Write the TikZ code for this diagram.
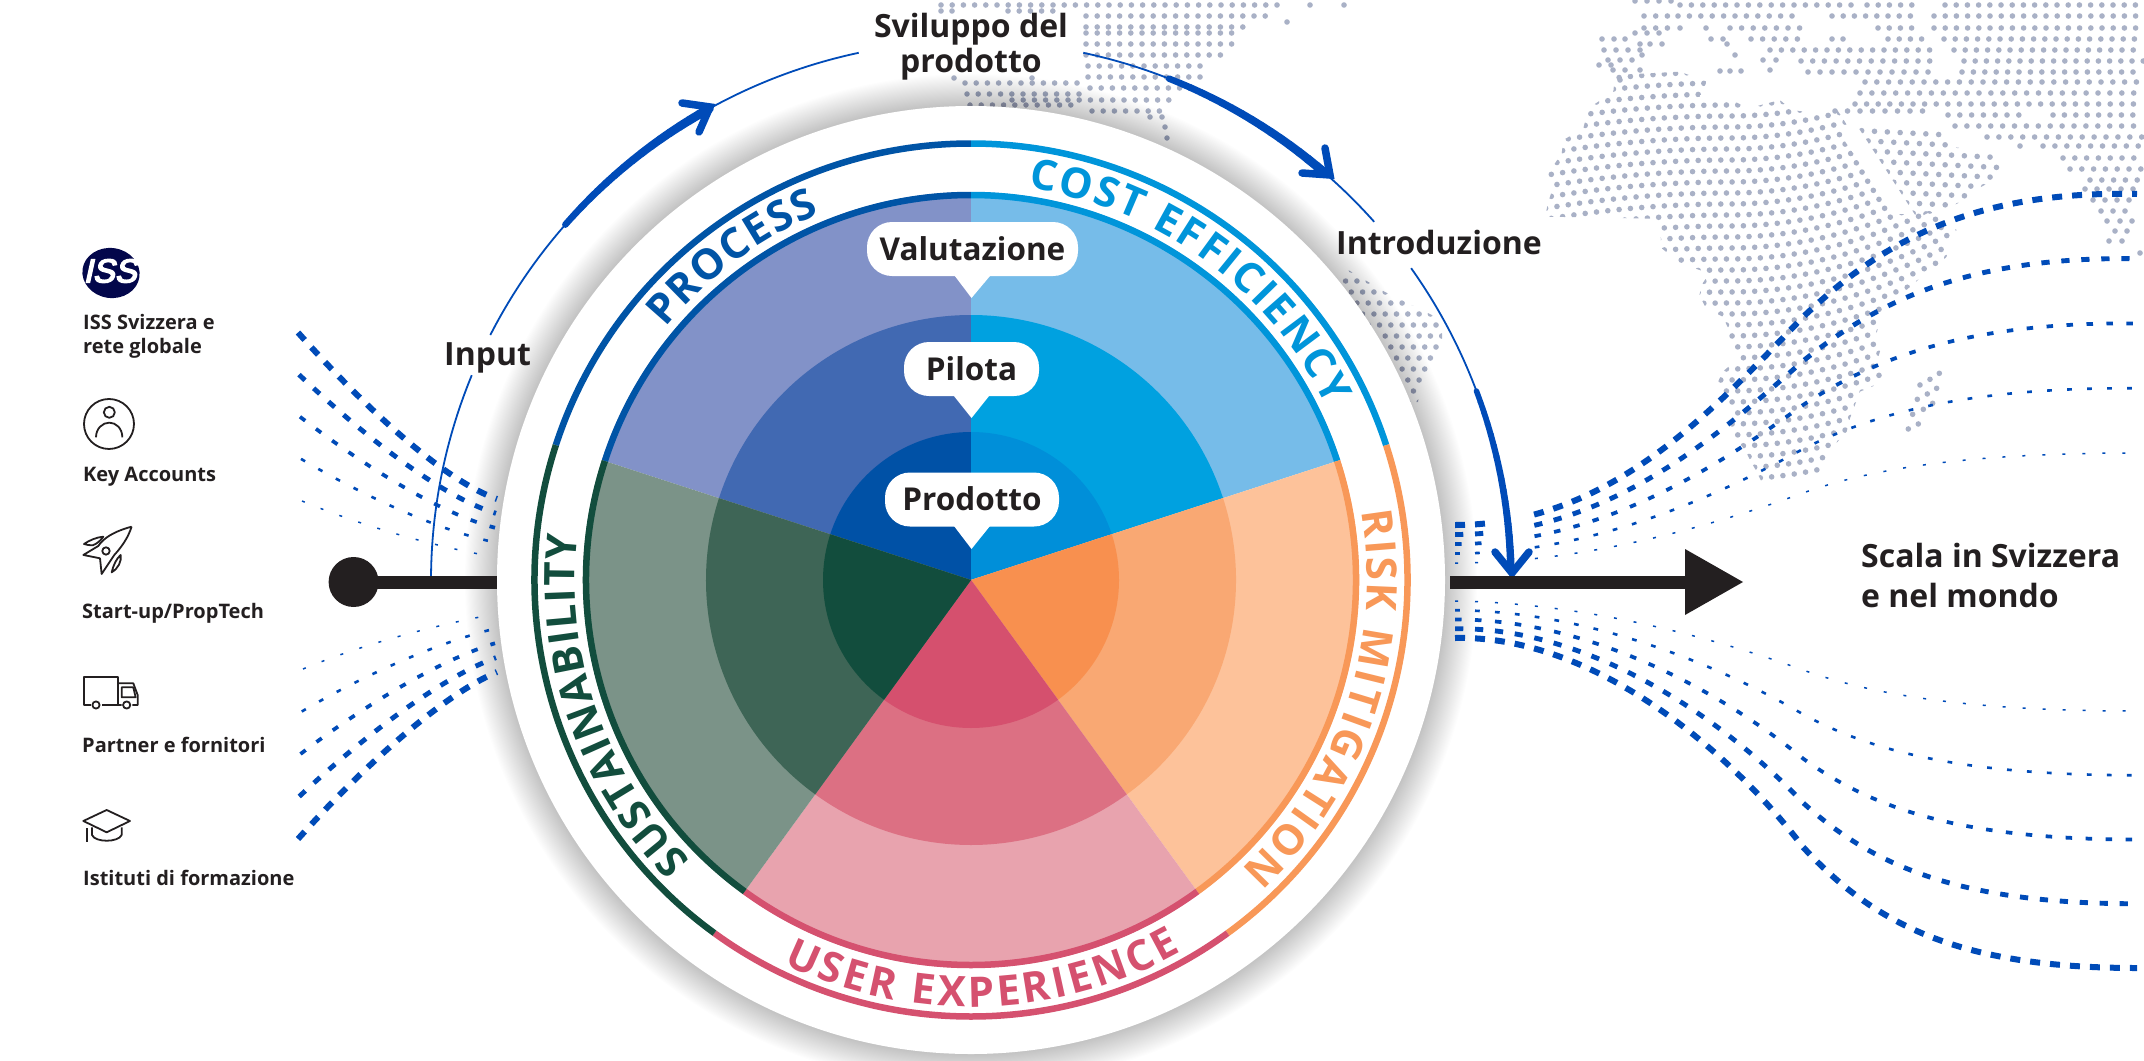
\documentclass[tikz,border=0pt]{standalone}
\usepackage{fontspec}
\IfFontExistsTF{Open Sans Bold}{\setmainfont{Open Sans}[BoldFont={Open Sans Bold}]}{\setmainfont{Noto Sans}[BoldFont={Noto Sans},BoldFeatures={FakeBold=2.2}]}
\newfontfamily\logofont{Liberation Sans}[FakeBold=4.5,FakeSlant=.22]
\usetikzlibrary{decorations.text}
\definecolor{ink}{HTML}{231F20}
\definecolor{mapc}{HTML}{A9B1C6}
\definecolor{blu}{HTML}{004BB8}
\definecolor{navy}{HTML}{03074B}
\definecolor{pA}{HTML}{8292C8}\definecolor{pB}{HTML}{4169B2}\definecolor{pC}{HTML}{0051A6}\definecolor{pR}{HTML}{0054A6}
\definecolor{cA}{HTML}{76BCE9}\definecolor{cB}{HTML}{00A1E0}\definecolor{cC}{HTML}{008FD9}\definecolor{cR}{HTML}{0095DA}
\definecolor{rA}{HTML}{FDC29A}\definecolor{rB}{HTML}{F9A873}\definecolor{rC}{HTML}{F8904F}\definecolor{rR}{HTML}{F89858}
\definecolor{uA}{HTML}{E8A3AE}\definecolor{uB}{HTML}{DC7083}\definecolor{uC}{HTML}{D5506E}\definecolor{uR}{HTML}{D5516F}
\definecolor{sA}{HTML}{7B9388}\definecolor{sB}{HTML}{3E6556}\definecolor{sC}{HTML}{124D3D}\definecolor{sR}{HTML}{124D3D}
\tikzset{
 mapdot/.style={fill=mapc},
 small/.style={anchor=base west,inner sep=0pt,text=ink,font=\bfseries\fontsize{20}{25}\selectfont},
 big/.style={anchor=base west,inner sep=0pt,text=ink,font=\bfseries\fontsize{32}{35}\selectfont},
 bubble/.style={fill=white,rounded corners=25pt,inner sep=0pt,text=ink,text height=22pt,text depth=0pt,minimum height=54pt,font=\bfseries\fontsize{31.5}{35}\selectfont},
 thin arc/.style={draw=blu,line width=1.8pt},
 barb/.style={draw=blu,line width=7.5pt,line cap=round},
 icon/.style={draw=ink,line width=1.8pt,line join=round}
}
\newcommand\mapRow[4]{\pgfmathsetmacro\nxt{#2+#4}\fill[mapdot] \foreach \xx in {#2,\nxt,...,#3} {(\xx,#1) circle[radius=2.8pt]};}
\newcommand\mapDots[2]{\fill[mapdot] \foreach \xx in {#2} {(\xx,#1) circle[radius=2.8pt]};}
\newcommand\wedgeSec[6]{%
 \fill[#3] (0,0) -- (#1:388) arc[start angle=#1,end angle=#2,radius=388] -- cycle;
 \fill[#4] (0,0) -- (#1:265) arc[start angle=#1,end angle=#2,radius=265] -- cycle;
 \fill[#5] (0,0) -- (#1:148) arc[start angle=#1,end angle=#2,radius=148] -- cycle;
 \draw[#6,line width=6.5pt] (#1:385) arc[start angle=#1,end angle=#2,radius=385];
 \draw[#6,line width=6.5pt] (#1:436.5) arc[start angle=#1,end angle=#2,radius=436.5];}
\newcommand\taper[4]{\foreach \k in {0,...,15}{%
 \pgfmathsetmacro\aa{#1+(#2-#1)*\k/16}\pgfmathsetmacro\ab{#1+(#2-#1)*(\k+1)/16}\pgfmathsetmacro\ww{#3+(#4-#3)*\k/15}%
 \draw[blu,line width=\ww pt,line cap=round] (\aa:540) arc[start angle=\aa,end angle=\ab,radius=540];}}
\newcommand\LL[2]{{#1+(#2-#1)*\t}}
\newcommand\setDash{\pgfmathsetmacro\t{\i/4}\pgfmathsetmacro\dOn{3+7*\t}\pgfmathsetmacro\dOff{20-\dOn}\pgfmathsetmacro\dW{1.5+4.5*\t}}
\begin{document}
\begin{tikzpicture}[x=1pt,y=-1pt]
\path[use as bounding box] (0,0) rectangle (2144,1060);
%% ---------- map: North America
\mapRow{5}{941}{1287}{11.2}\mapDots{5}{1310,1344}
\mapDots{11}{941,952}\mapRow{11}{1008}{1063}{11.2}\mapRow{16}{1086}{1275}{11.2}
\mapRow{27}{1086}{1253}{11.2}\mapDots{22}{1287}
\mapRow{33}{1086}{1242}{11.2}\mapRow{44}{1086}{1233}{11.2}\mapRow{55}{1086}{1222}{11.2}
\mapRow{66}{1088}{1210}{11.2}\mapRow{77}{1088}{1202}{11.2}\mapDots{78}{954,1032}
\mapRow{83}{965}{1077}{11.2}\mapRow{88}{1090}{1180}{11.2}\mapRow{94}{967}{1081}{11.2}
\mapRow{100}{1012}{1170}{11.2}\mapRow{105}{970}{1081}{11.2}\mapRow{111}{1092}{1128}{11.2}\mapRow{111}{1137}{1162}{11.2}
\mapDots{117}{1150,1162}\mapDots{127}{1165}\mapDots{138}{1167}
%% ---------- map: South America
\begin{scope}
\clip (1345,268)--(1385,292)--(1442,320)--(1442,345)--(1422,385)--(1418,402)--(1395,402)--(1335,300)--cycle;
\foreach \r in {0,...,12}{\foreach \c in {0,...,10}{\pgfmathsetmacro\xx{1340+11.3*\c+5.6*mod(\r,2)}\pgfmathsetmacro\yy{270+11*\r}\fill[mapdot] (\xx,\yy) circle[radius=2.8pt];}}
\end{scope}
%% ---------- map: Europe / Asia band
\mapDots{1}{1635,1647,1659,1671}
\mapRow{5}{1680}{1851}{11.4}\mapRow{5}{1867}{1922}{11.2}\mapRow{5}{1945}{2144}{11.2}
\mapRow{16}{1644}{1668}{11.7}\mapRow{16}{1678}{1803}{11.4}\mapRow{16}{1832}{1912}{11.2}\mapRow{16}{1934}{2144}{11.2}
\mapRow{28}{1644}{1668}{11.7}\mapDots{28}{1680,1706}\mapRow{28}{1730}{1801}{11.6}\mapRow{28}{1878}{1912}{11.2}\mapRow{28}{1934}{2144}{11.2}
\mapDots{39}{1602,1614,1625,1711,1723}\mapDots{33}{1635,1647,1659}\mapRow{39}{1751}{1799}{11.6}\mapDots{39}{1832,1843}\mapRow{39}{1888}{1922}{11.2}\mapRow{39}{1944}{2144}{11.2}
\mapDots{44}{1640,1650,1662,1727}\mapRow{50}{1604}{1642}{12}\mapRow{50}{1770}{1932}{11.4}\mapRow{50}{1954}{2144}{11.2}
\mapDots{55}{1642,1735}\mapDots{60}{1608,1620,1632,1763,1776}\mapRow{61}{1801}{1932}{11.7}\mapRow{61}{1964}{2144}{11.2}
\mapDots{65}{1599,1611}\mapDots{70}{1613,1625,1640,1770}\mapDots{71}{1720,1730,1741}\mapRow{72}{1808}{1939}{12}\mapRow{72}{1962}{2144}{11.4}
\mapDots{80}{1620}
\mapRow{82}{1865}{2144}{11.8}\mapRow{93}{1860}{2144}{11.9}\mapRow{104}{1855}{2144}{11.6}
\mapRow{111}{1835}{1923}{12.5}\mapRow{115}{1948}{2030}{11.8}\mapRow{115}{2053}{2144}{11.4}
\mapRow{126}{1955}{2144}{11.9}\mapRow{137}{1987}{2144}{11.9}\mapDots{146}{2020}\mapRow{146}{2043}{2144}{11.9}
\mapRow{158}{2063}{2144}{11.8}\mapRow{169}{2070}{2144}{11.8}\mapRow{180}{2090}{2144}{11.8}
\mapRow{189}{2085}{2135}{12}\mapRow{200}{2093}{2130}{12}\mapRow{211}{2101}{2125}{12}\mapDots{221}{2107,2120,2132}\mapDots{231}{2115,2127}\mapDots{241}{2109,2122}\mapDots{253}{2140}
%% ---------- map: Arabia / horn lobe
\begin{scope}[shift={(1820,0)},x=.3333pt,y=-.3333pt]
\clip (112,378)--(305,358)--(370,400)--(392,440)--(522,458)--(547,500)--(527,537)--(472,567)--(452,592)--(392,620)--(332,635)--(292,655)--cycle;
\foreach \r in {0,...,11}{\foreach \c in {-8,...,12}{\pgfmathsetmacro\xx{125+38.5*\c+19.3*\r}\pgfmathsetmacro\yy{392+30*\r+.05*(\xx-125)}\fill[mapdot] (\xx,\yy) circle[radius=2.8pt];}}
\end{scope}
%% ---------- map: Africa
\begin{scope}[shift={(1530,70)},x=.3333pt,y=-.3333pt]
\begin{scope}
\clip (255,15)--(450,5)--(530,35)--(510,80)--(470,90)--(605,90)--(655,115)--(750,90)--(785,120)--(860,130)--(915,110)--(935,140)--(955,172)--(942,210)--(978,262)--(998,292)--(1018,320)--(1033,350)--(1053,378)--(1073,407)--(1088,433)--(1135,432)--(1200,423)--(1280,480)--(1255,510)--(1250,560)--(1220,590)--(1195,610)--(1170,625)--(1120,668)--(1060,705)--(1050,750)--(1040,790)--(1058,820)--(1045,860)--(1030,900)--(1088,915)--(1050,940)--(990,965)--(975,1005)--(960,1045)--(950,1085)--(905,1135)--(890,1172)--(875,1210)--(805,1228)--(700,1247)--(680,1205)--(660,1170)--(645,1140)--(620,1110)--(600,1075)--(615,1040)--(595,1010)--(580,975)--(560,945)--(578,905)--(620,870)--(605,840)--(590,805)--(595,775)--(578,740)--(528,715)--(508,675)--(518,640)--(538,610)--(455,582)--(395,535)--(388,455)--(370,446)--(45,440)--(55,395)--(65,365)--(55,310)--(75,280)--(95,250)--(100,210)--(160,175)--(170,135)--(190,105)--(250,65)--cycle;
\foreach \r in {0,...,41}{\foreach \c in {0,...,38}{%
 \pgfmathsetmacro\xx{30+33.9*\c+16.95*mod(\r,2)}%
 \pgfmathsetmacro\dz{(\xx-600)/100}%
 \pgfmathsetmacro\yy{-60+33*\r+(\dz>0?(0-4*\dz*\dz):(1.5*\dz*\dz))}%
 \fill[mapdot] (\xx,\yy) circle[radius=2.8pt];}}
\end{scope}
\foreach \p in {(1228,910),(1200,928),(1170,945),(1220,955),(1192,972),(1162,988),(1208,1000),(1180,1018),(1148,1033),(1165,1062),(1135,1077)}{\fill[mapdot] \p circle[radius=2.8pt];}
\end{scope}
%% ---------- wheel
\begin{scope}[shift={(971,580)},y=1pt]
\foreach \k in {0,...,29}{\pgfmathsetmacro\rr{506-1.07*\k}\fill[black,opacity=.006] (0,0) circle[radius=\rr];}
\fill[white] (0,0) circle[radius=474];
\wedgeSec{90}{162}{pA}{pB}{pC}{pR}
\wedgeSec{18}{90}{cA}{cB}{cC}{cR}
\wedgeSec{-54}{18}{rA}{rB}{rC}{rR}
\wedgeSec{-126}{-54}{uA}{uB}{uC}{uR}
\wedgeSec{162}{234}{sA}{sB}{sC}{sR}
\path[decorate,decoration={text along path,text align={fit to path},text color=pR,text={|\bfseries\fontsize{42}{42}\selectfont|PROCESS}}] (140.5:396) arc[start angle=140.5,end angle=112.5,radius=396];
\path[decorate,decoration={text along path,text align={fit to path},text color=cR,text={|\bfseries\fontsize{42}{42}\selectfont|COST EFFICIENCY}}] (81.7:396) arc[start angle=81.7,end angle=26,radius=396];
\path[decorate,decoration={text along path,text align={fit to path},text color=rR,text={|\bfseries\fontsize{42}{42}\selectfont|RISK MITIGATION}}] (10:396) arc[start angle=10,end angle=-47,radius=396];
\path[decorate,decoration={text along path,text align={fit to path},text color=uR,text={|\bfseries\fontsize{42}{42}\selectfont|USER EXPERIENCE}}] (244:427) arc[start angle=244,end angle=299.5,radius=427];
\path[decorate,decoration={text along path,text align={fit to path},text color=sR,text={|\bfseries\fontsize{42}{42}\selectfont|SUSTAINABILITY}}] (225:396) arc[start angle=225,end angle=173.5,radius=396];
\end{scope}
%% ---------- bubbles
\node[bubble,minimum width=211pt] (val) at (972.5,249) {Valutazione};
\coordinate (valtip) at (971.5,298);
\fill[white] ([xshift=-19pt,yshift=2pt]val.south) -- (valtip) -- ([xshift=19pt,yshift=2pt]val.south) -- cycle;
\node[bubble,minimum width=135pt] (pil) at (971.5,369) {Pilota};
\coordinate (piltip) at (971.5,418);
\fill[white] ([xshift=-19pt,yshift=2pt]pil.south) -- (piltip) -- ([xshift=19pt,yshift=2pt]pil.south) -- cycle;
\node[bubble,minimum width=174pt] (pro) at (972,499.5) {Prodotto};
\coordinate (protip) at (971.5,549);
\fill[white] ([xshift=-19pt,yshift=2pt]pro.south) -- (protip) -- ([xshift=19pt,yshift=2pt]pro.south) -- cycle;
%% ---------- dashed flows
\foreach \i in {0,...,4}{\setDash
 \draw[blu,line width=\dW pt,dash pattern=on \dOn pt off \dOff pt] (\LL{302}{298},\LL{501}{332.5}) .. controls (\LL{362}{358},\LL{526}{400}) and (\LL{436}{440},\LL{547}{479}) .. (\LL{493}{497},\LL{556.5}{499});
 \draw[blu,line width=\dW pt,dash pattern=on \dOn pt off \dOff pt] (\LL{303}{298},\LL{669}{839}) .. controls (\LL{363}{358},\LL{644}{772}) and (\LL{436}{440},\LL{625}{696}) .. (\LL{493}{497},\LL{614.5}{672});
 \draw[blu,line width=\dW pt,dash pattern=on \dOn pt off \dOff pt] (1455,\LL{563}{525}) .. controls (\LL{1590}{1610},\LL{563}{525}) and (\LL{1723}{1713},\LL{522}{410}) .. (1803,\LL{493}{317}) .. controls (1873,\LL{468}{251}) and (\LL{1970}{1960},\LL{453}{190}) .. (2137,\LL{453}{194});
 \draw[blu,line width=\dW pt,dash pattern=on \dOn pt off \dOff pt] (1455,\LL{601}{638}) .. controls (1590,\LL{603}{635}) and (\LL{1720}{1725},\LL{640}{745}) .. (1803,\LL{670}{847}) .. controls (\LL{1873}{1875},\LL{695}{925}) and (\LL{1970}{1960},\LL{711}{968}) .. (2137,\LL{711}{968});
}
\fill[white] (1489,505) rectangle (1531,574);
%% ---------- blue arcs
\begin{scope}[shift={(971,581)},y=1pt]
\draw[thin arc] (180:540) arc[start angle=180,end angle=157.6,radius=540];
\draw[thin arc] (152.9:540) arc[start angle=152.9,end angle=138.7,radius=540];
\taper{138.7}{119}{6.5}{9}
\draw[thin arc] (119:540) arc[start angle=119,end angle=102,radius=540];
\draw[thin arc] (78:540) arc[start angle=78,end angle=68.5,radius=540];
\taper{68.5}{49}{6.5}{9}
\draw[thin arc] (49:540) arc[start angle=49,end angle=41.7,radius=540];
\draw[thin arc] (35.4:540) arc[start angle=35.4,end angle=20.6,radius=540];
\taper{20.6}{1.2}{5.5}{7.5}
\end{scope}
\coordinate (tipA) at (710,107);\coordinate (tipB) at (1330,175);\coordinate (tipC) at (1512,573);
\draw[barb] (682,103) -- (tipA) -- (699,132);
\draw[barb] (1325,148) -- (tipB) -- (1302,173);
\draw[barb] (1495,552) -- (tipC) -- (1529,552);
%% ---------- black axis
\node[circle,fill=ink,minimum size=50pt,inner sep=0pt] (start) at (353.6,582) {};
\coordinate (axisL) at (497,582);
\draw[ink,line width=13pt] (start.center) -- (axisL);
\coordinate (axisR) at (1450,582);\coordinate (axisM) at (1685,582);\coordinate (axisT) at (1743,582);
\draw[ink,line width=13pt] (axisR) -- (axisM);
\fill[ink] (1685,549) -- (axisT) -- (1685,615) -- cycle;
%% ---------- labels
\node[big,anchor=center,align=center] (svil) at (971,47) {Sviluppo del\\prodotto};
\node[big] (inp) at (444,365) {Input};
\node[big] (intro) at (1336,254) {Introduzione};
\node[big] (scala) at (1861,567) {Scala in Svizzera};
\node[big] (scalb) at (1861,607) {e nel mondo};
\node[small] (la) at (83,329) {ISS Svizzera e};
\node[small] (lb) at (83,353) {rete globale};
\node[small] (lc) at (83,481) {Key Accounts};
\node[small] (ld) at (82,618) {Start-up/PropTech};
\node[small] (le) at (82,752) {Partner e fornitori};
\node[small] (lf) at (83,885) {Istituti di formazione};
%% ---------- icons
\fill[navy,rotate around={-8:(111,273)}] (111,273) ellipse[x radius=28.7,y radius=25];
\node[inner sep=0pt,text=white,font=\logofont\fontsize{33}{33}\selectfont] (isslogo) at (110,271) {ISS};
\begin{scope}[shift={(70,240)},x=.3333pt,y=-.3333pt]
\draw[icon] (117,552) circle[radius=25pt];
\draw[icon] (118,517) circle[radius=5.5pt];
\draw[icon] (78,592) .. controls (78,565) and (98,548) .. (118,548) .. controls (138,548) and (157,565) .. (157,592);
\draw[icon] (185,860) .. controls (130,875) and (100,895) .. (85,918) -- (40,945) -- (90,955) -- (95,1002) -- (133,945) .. controls (160,915) and (175,890) .. (185,860);
\draw[icon] (42,912) .. controls (60,900) and (80,892) .. (100,890) .. controls (92,902) and (80,912) .. (68,916) .. controls (58,916) and (50,915) .. (42,912) -- cycle;
\draw[icon] (125,997) .. controls (130,975) and (140,955) .. (152,945) .. controls (155,965) and (145,985) .. (125,997) -- cycle;
\draw[icon] (108,933) circle[radius=3.7pt];
\end{scope}
\begin{scope}[shift={(70,620)},x=.3333pt,y=-.3333pt]
\draw[icon] (62,255) -- (42,255) -- (42,172) -- (143,172) -- (143,255) -- (95,255);
\draw[icon] (143,255) -- (155,255) (187,255) -- (203,255) -- (203,225) -- (190,190) -- (143,190);
\draw[icon] (155,232) -- (155,202) -- (190,202) -- (197,232) -- cycle;
\draw[icon] (78,255) circle[radius=3.6pt];
\draw[icon] (170,255) circle[radius=3.6pt];
\draw[icon] (40,603) -- (110,570) -- (180,603) -- (110,637) -- cycle;
\draw[icon] (50,625) -- (50,665);
\draw[icon] (66,622) -- (66,645) .. controls (75,668) and (145,668) .. (155,645) -- (155,622);
\end{scope}
\end{tikzpicture}
\end{document}
